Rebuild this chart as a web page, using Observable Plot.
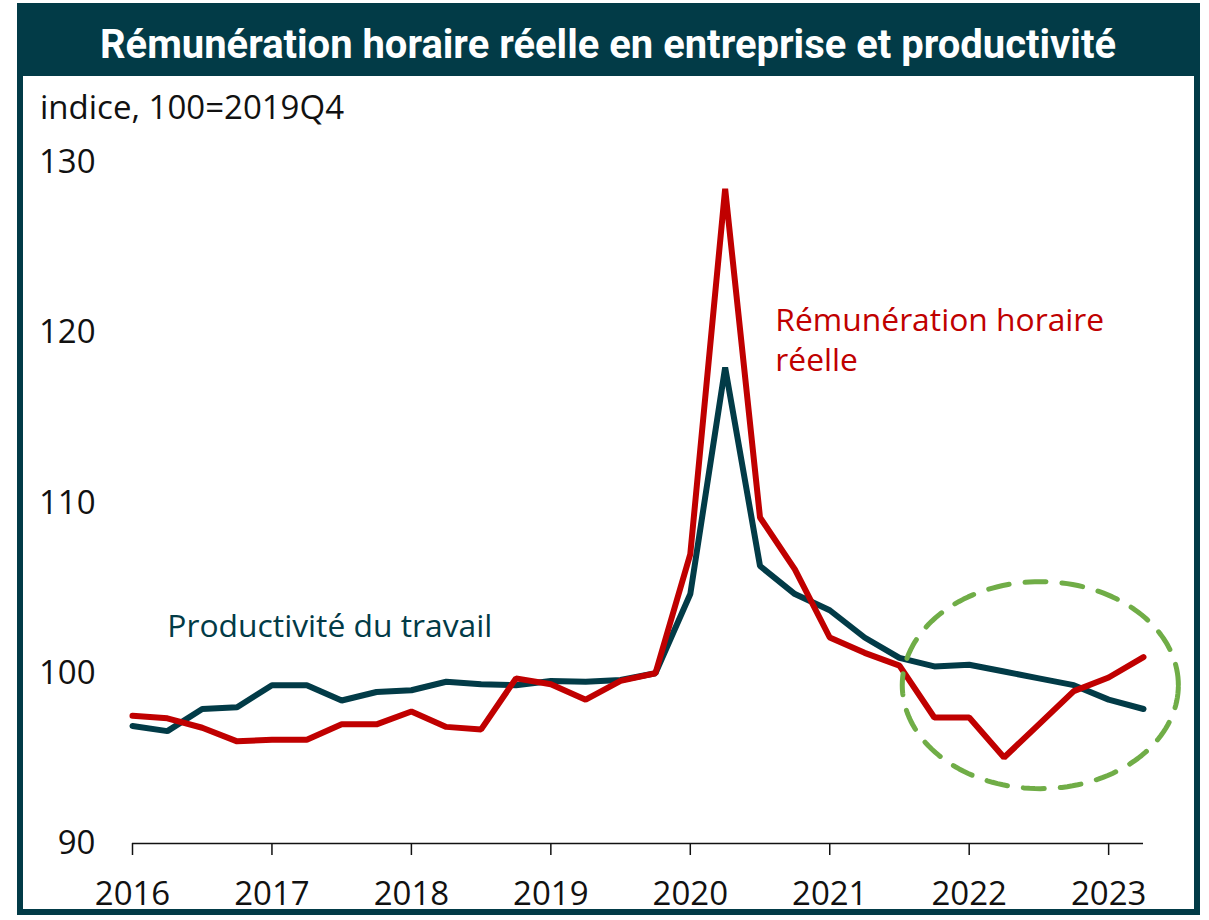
<!DOCTYPE html>
<html>
<head>
<meta charset="utf-8">
<script src="https://cdn.jsdelivr.net/npm/d3@7"></script>
<script src="https://cdn.jsdelivr.net/npm/@observablehq/plot@0.6"></script>
<style>
  html, body { margin: 0; padding: 0; background: #fff; }
  #wrap { position: relative; width: 1209px; height: 920px; overflow: hidden; font-family: "Open Sans", sans-serif; }
  #frame { position: absolute; left: 17px; top: 3px; width: 1183px; height: 912px; box-sizing: border-box; border: 6px solid #023b47; }
  #titlebar { position: absolute; left: 17px; top: 3px; width: 1183px; height: 73px; background: #023b47; }
  #subtitle { position: absolute; left: 40px; top: 90px; font-size: 33px; line-height: 33px; color: #111; white-space: nowrap; }
  #chart { position: absolute; left: 0; top: 120px; }
</style>
</head>
<body>
<div id="wrap">
  <div id="frame"></div>
  <div id="titlebar">
    <svg width="1183" height="73" style="position:absolute;left:0;top:0">
      <text id="titletext" x="591" y="55" text-anchor="middle" fill="#fff" font-family="Roboto, 'Liberation Sans', sans-serif" font-weight="700" font-size="41" textLength="1016" lengthAdjust="spacingAndGlyphs"></text>
    </svg>
  </div>
  <div id="subtitle"></div>
  <div id="chart"></div>
</div>
<script>
const titleText = "Rémunération horaire réelle en entreprise et productivité";
const subtitleText = "indice, 100=2019Q4";

const quarters = [
  "2016Q1","2016Q2","2016Q3","2016Q4",
  "2017Q1","2017Q2","2017Q3","2017Q4",
  "2018Q1","2018Q2","2018Q3","2018Q4",
  "2019Q1","2019Q2","2019Q3","2019Q4",
  "2020Q1","2020Q2","2020Q3","2020Q4",
  "2021Q1","2021Q2","2021Q3","2021Q4",
  "2022Q1","2022Q2","2022Q3","2022Q4",
  "2023Q1","2023Q2"
];
const productivite = [
  96.9, 96.6, 97.9, 98.0,
  99.3, 99.3, 98.4, 98.9,
  99.0, 99.5, 99.35, 99.3,
  99.55, 99.5, 99.6, 100.0,
  104.65, 117.96, 106.3, 104.65,
  103.7, 102.1, 100.9, 100.4,
  100.5, 100.1, 99.7, 99.3,
  98.45, 97.9
];
const remuneration = [
  97.5, 97.35, 96.8, 96.0,
  96.1, 96.1, 97.0, 97.0,
  97.75, 96.85, 96.7, 99.7,
  99.35, 98.45, 99.55, 100.0,
  107.0, 128.45, 109.15, 106.1,
  102.1, 101.2, 100.45, 97.4,
  97.4, 95.05, 97.0, 98.95,
  99.75, 100.95
];
const yTicks = [90, 100, 110, 120, 130];
const xTicks = [2016, 2017, 2018, 2019, 2020, 2021, 2022, 2023];
const seriesLabels = [
  {text: "Productivité du travail", x: 2016.25, y: 103.8, color: "#023b47"},
  {text: "Rémunération horaire\nréelle", x: 2020.61, y: 121.75, color: "#c00000"}
];
// highlight ellipse (data coordinates): center x, center y, radius x (years), radius y (index points)
const highlight = [2022.51, 99.3, 0.99, 6.08];

document.getElementById("titletext").textContent = titleText;
document.getElementById("subtitle").textContent = subtitleText;

const toX = q => +q.slice(0, 4) + (+q.slice(5) - 1) / 4;
const prodData = quarters.map((q, i) => ({x: toX(q), y: productivite[i]}));
const remData = quarters.map((q, i) => ({x: toX(q), y: remuneration[i]}));
const ellipsePts = d3.range(0, 160).map(i => {
  const t = (i / 160) * 2 * Math.PI;
  return {x: highlight[0] + highlight[2] * Math.cos(t), y: highlight[1] + highlight[3] * Math.sin(t)};
});

const chart = Plot.plot({
  width: 1209,
  height: 800,
  marginTop: 42,
  marginBottom: 77,
  marginLeft: 132,
  marginRight: 66,
  style: {fontFamily: "Open Sans, sans-serif", fontSize: "33px", color: "#111", background: "transparent", overflow: "visible"},
  x: {domain: [2016, 2023.25], label: null},
  y: {domain: [90, 130], label: null},
  marks: [
    Plot.axisY(yTicks, {tickSize: 0, tickPadding: 37, fontSize: 33, label: null}),
    Plot.axisX(xTicks, {tickSize: 12, tickPadding: 26, tickFormat: d3.format("d"), fontSize: 33, label: null, strokeWidth: 1.5}),
    Plot.ruleY([90], {stroke: "#111", strokeWidth: 1.5}),
    Plot.line(prodData, {x: "x", y: "y", stroke: "#023b47", strokeWidth: 6, strokeLinejoin: "miter"}),
    Plot.line(remData, {x: "x", y: "y", stroke: "#c00000", strokeWidth: 6, strokeLinejoin: "miter"}),
    Plot.text(seriesLabels, {x: "x", y: "y", text: "text", fill: "color", textAnchor: "start", lineAnchor: "top", fontSize: 31.8, lineHeight: 1.25}),
    Plot.line(ellipsePts, {x: "x", y: "y", curve: "linear-closed", stroke: "#70ad47", strokeWidth: 5, strokeDasharray: "21,16"})
  ]
});
document.getElementById("chart").appendChild(chart);
</script>
</body>
</html>
